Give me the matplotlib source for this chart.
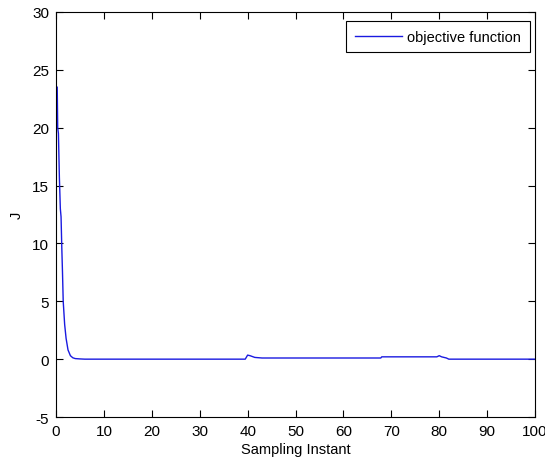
import numpy as np
import matplotlib
matplotlib.use('Agg')
import matplotlib.pyplot as plt

# 目的関数の推移
k = [0.25, 0.35, 0.5, 0.7, 0.9, 1.05, 1.2, 1.35, 1.5, 1.8, 2.1, 2.5, 3.0, 3.5, 4.0, 5.0, 6.0,
     39.5, 40.0, 40.5, 41.5, 43.0, 67.8, 68.0, 79.5, 80.0, 80.5, 81.5, 82.0, 100.0]
J = [23.5, 20.0, 19.5, 15.7, 13.0, 12.3, 9.7, 7.5, 5.0, 3.0, 1.8, 0.8, 0.3, 0.12, 0.05, 0.02, 0.0,
     0.0, 0.35, 0.3, 0.15, 0.1, 0.1, 0.2, 0.2, 0.3, 0.2, 0.1, 0.0, 0.0]

plt.rcParams['font.family'] = ['Liberation Sans', 'DejaVu Sans']
plt.rcParams['axes.unicode_minus'] = False

fig = plt.figure(figsize=(5.45, 4.64), dpi=100)
ax = fig.add_axes([0.1028, 0.0991, 0.8789, 0.8729])

ax.plot(k, J, color='#1a1ae0', linewidth=1.0, label='objective function')

ax.set_xlim(0, 100)
ax.set_ylim(-5, 30)
ax.set_xticks(np.arange(0, 101, 10))
ax.set_yticks(np.arange(-5, 31, 5))
ax.tick_params(direction='in', top=True, right=True, length=5, labelsize=11, pad=5)
ax.set_xlabel('Sampling Instant', fontsize=10.5, labelpad=3)
ax.set_ylabel('J', fontsize=10.5, labelpad=6)

leg = ax.legend(loc='upper right', bbox_to_anchor=(0.9896, 0.9778), borderaxespad=0,
                fontsize=10.5, fancybox=False, framealpha=1, edgecolor='black',
                borderpad=0.6, handlelength=3.2, handletextpad=0.4)
leg.get_frame().set_linewidth(0.8)

fig.savefig('out.png', dpi=100)
